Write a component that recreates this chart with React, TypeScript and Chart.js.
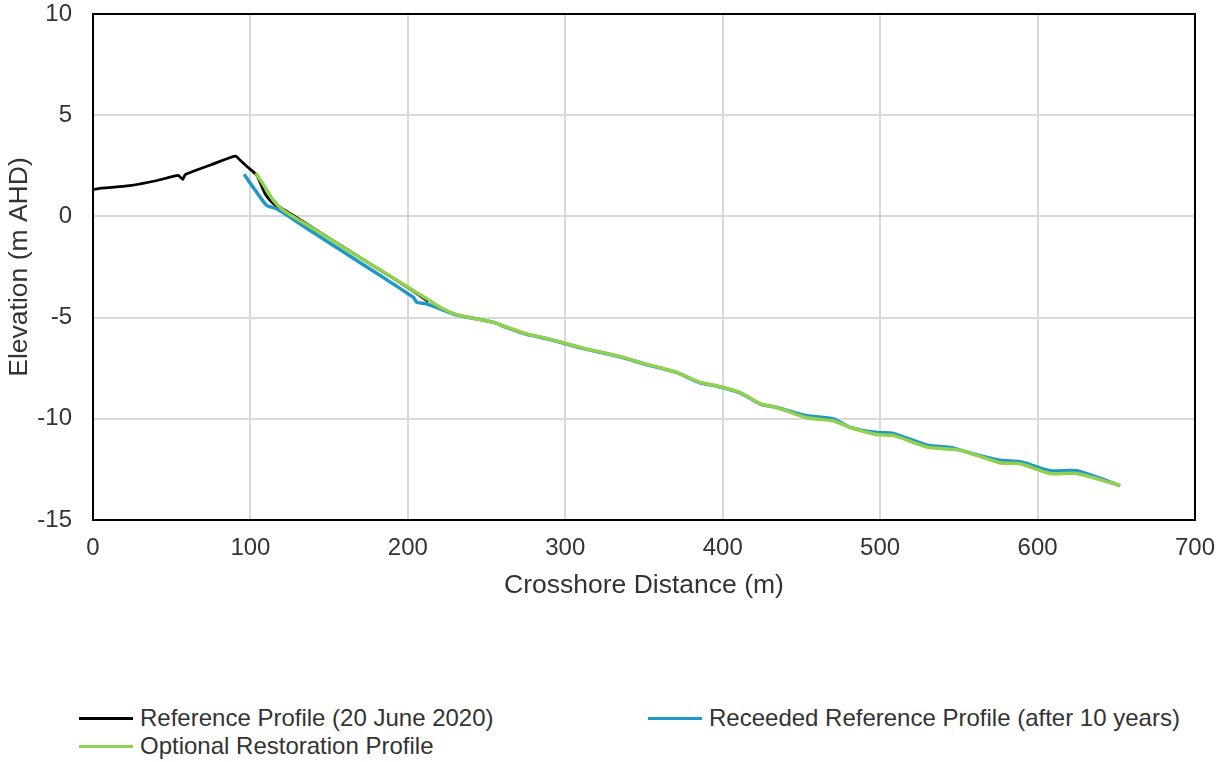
import React, { useEffect, useRef } from "react";
import { Chart, registerables } from "chart.js";

Chart.register(...registerables);

// Reference Profile (20 June 2020)
const refX = [0, 5, 10, 23.5, 40, 54, 56, 57, 58.5, 60, 75, 90.5, 93.5, 98, 104, 109.3, 114.6, 120, 140, 160, 180, 200, 213];
const refY = [1.32, 1.4, 1.42, 1.52, 1.76, 2.03, 1.9, 1.83, 2.05, 2.12, 2.55, 2.98, 2.77, 2.45, 2.03, 1.12, 0.63, 0.4, -0.58, -1.56, -2.54, -3.52, -4.2];

// Receeded Reference Profile (after 10 years)
const recX = [96, 103, 110.4, 116.7, 140, 160, 180, 203.5, 205.6, 212, 220.5, 231, 246, 255, 262, 275.5, 287, 296.7, 311, 332.7, 354, 370.8, 385.6, 396, 411, 423.8, 434.4, 453.4, 470, 481, 498, 508.4, 529.8, 545, 550.8, 576, 589, 608, 625, 652.5];
const recY = [2.08, 1.3, 0.54, 0.38, -0.8, -1.8, -2.8, -4.0, -4.24, -4.32, -4.57, -4.87, -5.1, -5.25, -5.47, -5.83, -6.02, -6.22, -6.52, -6.9, -7.37, -7.72, -8.22, -8.38, -8.72, -9.27, -9.44, -9.85, -10.0, -10.42, -10.68, -10.72, -11.3, -11.42, -11.55, -12.05, -12.12, -12.57, -12.57, -13.3];

// Optional Restoration Profile
const optX = [103.4, 108, 114.6, 121, 140, 160, 180, 200, 212, 220.5, 231, 246, 255, 262, 275.5, 287, 296.7, 311, 332.7, 354, 370.8, 385.6, 396, 411, 423.8, 434.4, 453.4, 470, 481, 498, 508.4, 529.8, 550.8, 576, 589, 608, 625, 652.5];
const optY = [2.14, 1.6, 0.79, 0.3, -0.61, -1.57, -2.53, -3.49, -4.07, -4.49, -4.85, -5.1, -5.25, -5.45, -5.8, -6.0, -6.2, -6.5, -6.88, -7.35, -7.7, -8.2, -8.37, -8.7, -9.25, -9.44, -9.95, -10.1, -10.43, -10.78, -10.82, -11.4, -11.55, -12.17, -12.22, -12.7, -12.7, -13.3];

const seriesNames = [
  "Reference Profile (20 June 2020)",
  "Receeded Reference Profile (after 10 years)",
  "Optional Restoration Profile",
];
const seriesColors = ["#000000", "#1f98c7", "#92d050"];

const xTitle = "Crosshore Distance (m)";
const yTitle = "Elevation (m AHD)";

const FONT = "'Liberation Sans', Arial, sans-serif";
const TEXT = "#333333";

const toPts = (xs: number[], ys: number[]) => xs.map((x, i) => ({ x, y: ys[i] }));

const borderPlugin = {
  id: "plotBorder",
  afterDraw(chart: any) {
    const { ctx, chartArea } = chart;
    ctx.save();
    ctx.strokeStyle = "#000";
    ctx.lineWidth = 2;
    ctx.strokeRect(chartArea.left, chartArea.top, chartArea.right - chartArea.left, chartArea.bottom - chartArea.top);
    ctx.restore();
  },
};

const zeroPad = (s: any) => {
  s.paddingTop = 0;
  s.paddingBottom = 0;
  s.paddingLeft = 0;
  s.paddingRight = 0;
};

export default function App() {
  const ref = useRef<HTMLCanvasElement | null>(null);

  useEffect(() => {
    if (!ref.current) return;
    const common = { showLine: true, pointRadius: 0, tension: 0.2 };
    const chart = new Chart(ref.current, {
      type: "scatter",
      data: {
        datasets: [
          {
            ...common,
            label: seriesNames[2],
            data: toPts(optX, optY),
            borderColor: seriesColors[2],
            backgroundColor: seriesColors[2],
            borderWidth: 3.5,
          },
          {
            ...common,
            label: seriesNames[0],
            data: toPts(refX, refY),
            borderColor: seriesColors[0],
            backgroundColor: seriesColors[0],
            borderWidth: 2.75,
          },
          {
            ...common,
            label: seriesNames[1],
            data: toPts(recX, recY),
            borderColor: seriesColors[1],
            backgroundColor: seriesColors[1],
            borderWidth: 3.5,
          },
        ],
      },
      options: {
        animation: false,
        responsive: false,
        layout: { padding: { left: 0, right: 22, top: 14, bottom: 0 } },
        plugins: { legend: { display: false }, tooltip: { enabled: false } },
        scales: {
          x: {
            type: "linear",
            min: 0,
            max: 700,
            afterFit: (s: any) => {
              s.height = 100;
              zeroPad(s);
            },
            ticks: { stepSize: 100, color: TEXT, font: { family: FONT, size: 24 }, padding: 14, maxRotation: 0 },
            grid: { color: "#d9d9d9", lineWidth: 2, drawTicks: false },
            border: { display: false },
            title: { display: true, text: xTitle, color: TEXT, font: { family: FONT, size: 26.5 }, padding: { top: 0, bottom: 18 } },
          },
          y: {
            type: "linear",
            min: -15,
            max: 10,
            afterFit: (s: any) => {
              s.width = 93;
              zeroPad(s);
            },
            ticks: { stepSize: 5, color: TEXT, font: { family: FONT, size: 24 }, padding: 21 },
            grid: { color: "#d9d9d9", lineWidth: 2, drawTicks: false },
            border: { display: false },
            title: { display: true, text: yTitle, color: TEXT, font: { family: FONT, size: 26.5 }, padding: { top: 4, bottom: 0 } },
          },
        },
      },
      plugins: [borderPlugin],
    });
    return () => chart.destroy();
  }, []);

  const legendItem = (i: number, left: number, top: number) => (
    <div key={i} style={{ position: "absolute", left, top, display: "flex", alignItems: "center", height: 30 }}>
      <div style={{ width: 54, height: 3, background: seriesColors[i], marginRight: 7 }} />
      <span style={{ fontFamily: FONT, fontSize: 24, color: TEXT, whiteSpace: "nowrap" }}>{seriesNames[i]}</span>
    </div>
  );

  return (
    <div style={{ position: "absolute", left: 0, top: 0, width: 1217, height: 762, background: "#fff" }}>
      <canvas ref={ref} width={1217} height={620} style={{ display: "block" }} />
      {legendItem(0, 79, 703)}
      {legendItem(1, 648, 703)}
      {legendItem(2, 79, 731)}
    </div>
  );
}
